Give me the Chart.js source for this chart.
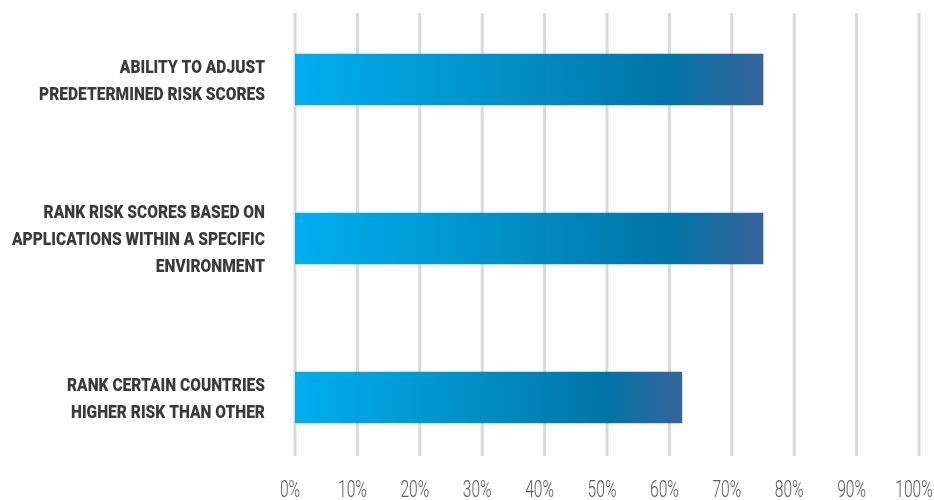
<!DOCTYPE html>
<html>
<head>
<meta charset="utf-8">
<script src="https://cdn.jsdelivr.net/npm/chart.js@4/dist/chart.umd.min.js"></script>
<style>
  html, body { margin: 0; background: #fff; }
  #wrap { width: 934px; height: 500px; }
</style>
</head>
<body>
<div id="wrap"><canvas id="barChart"></canvas></div>
<script>
const categories = [
  ['ABILITY TO ADJUST', 'PREDETERMINED RISK SCORES'],
  ['RANK RISK SCORES BASED ON', 'APPLICATIONS WITHIN A SPECIFIC', 'ENVIRONMENT'],
  ['RANK CERTAIN COUNTRIES', 'HIGHER RISK THAN OTHER']
];
const values = [75, 75, 62];
const xTicks = [0, 10, 20, 30, 40, 50, 60, 70, 80, 90, 100];

// each bar gets its own left-to-right gradient, light cyan to slate blue
function barFill(context) {
  const chart = context.chart;
  const x = chart.scales.x;
  if (!x || typeof context.raw !== 'number') return '#0080b8';
  const x0 = x.getPixelForValue(0);
  const x1 = x.getPixelForValue(context.raw);
  if (!isFinite(x0) || !isFinite(x1) || x1 <= x0) return '#0080b8';
  const g = chart.ctx.createLinearGradient(x0, 0, x1, 0);
  g.addColorStop(0, '#00aeef');
  g.addColorStop(0.45, '#0090c6');
  g.addColorStop(0.8, '#0074a6');
  g.addColorStop(1, '#37649a');
  return g;
}

// vertical grid lines under the bars, stopping short of the top and bottom
const gridLines = {
  id: 'gridLines',
  beforeDatasetsDraw(chart) {
    const { ctx, scales: { x } } = chart;
    ctx.save();
    ctx.strokeStyle = '#d9d9d9';
    ctx.lineWidth = 3;
    xTicks.forEach(v => {
      const px = x.getPixelForValue(v);
      ctx.beginPath();
      ctx.moveTo(px, 13);
      ctx.lineTo(px, 456);
      ctx.stroke();
    });
    ctx.restore();
  }
};

// condensed labels: category names on the left, percents along the bottom
const axisLabels = {
  id: 'axisLabels',
  afterDraw(chart) {
    const { ctx, scales: { x, y } } = chart;
    ctx.save();
    ctx.textBaseline = 'alphabetic';

    // category names, squeezed to fit the label column
    ctx.font = '900 19px Roboto, "DejaVu Sans", sans-serif';
    ctx.fillStyle = '#3a3a3a';
    ctx.textAlign = 'right';
    const widest = Math.max(...categories.flat().map(t => ctx.measureText(t).width));
    const squeeze = Math.min(1, 253 / widest);
    const right = y.right - 30;
    categories.forEach((lines, i) => {
      const mid = y.getPixelForValue(i);
      lines.forEach((t, j) => {
        const cy = mid + (j - (lines.length - 1) / 2) * 27;
        ctx.save();
        ctx.translate(right, cy + 6.7);
        ctx.scale(squeeze, 1);
        ctx.fillText(t, 0, 0);
        ctx.restore();
      });
    });

    // percent ticks
    ctx.font = '300 24px Roboto, "DejaVu Sans", sans-serif';
    ctx.fillStyle = '#5a5a5a';
    ctx.textAlign = 'center';
    xTicks.forEach(v => {
      ctx.save();
      ctx.translate(x.getPixelForValue(v) - 5, 497);
      ctx.scale(0.65, 1);
      ctx.fillText(v + '%', 0, 0);
      ctx.restore();
    });
    ctx.restore();
  }
};

const barCtx = document.getElementById('barChart').getContext('2d');
const barChart = new Chart(barCtx, {
  type: 'bar',
  data: {
    labels: categories,
    datasets: [{
      data: values,
      backgroundColor: barFill,
      borderWidth: 0,
      barThickness: 51
    }]
  },
  options: {
    indexAxis: 'y',
    responsive: true,
    maintainAspectRatio: false,
    animation: false,
    layout: {
      padding: { top: 0, right: 15, bottom: 23, left: 0 }
    },
    plugins: {
      legend: { display: false },
      tooltip: { enabled: false }
    },
    scales: {
      x: {
        min: 0,
        max: 100,
        afterBuildTicks: s => { s.ticks = xTicks.map(v => ({ value: v })); },
        afterFit: s => { s.paddingLeft = 0; s.paddingRight = 0; s.height = 0; },
        grid: { display: false },
        border: { display: false },
        ticks: { display: false }
      },
      y: {
        afterFit: s => { s.width = 295; s.paddingTop = 0; s.paddingBottom = 0; },
        grid: { display: false, drawTicks: false },
        border: { display: false },
        ticks: { display: false }
      }
    }
  },
  plugins: [gridLines, axisLabels]
});
</script>
</body>
</html>
